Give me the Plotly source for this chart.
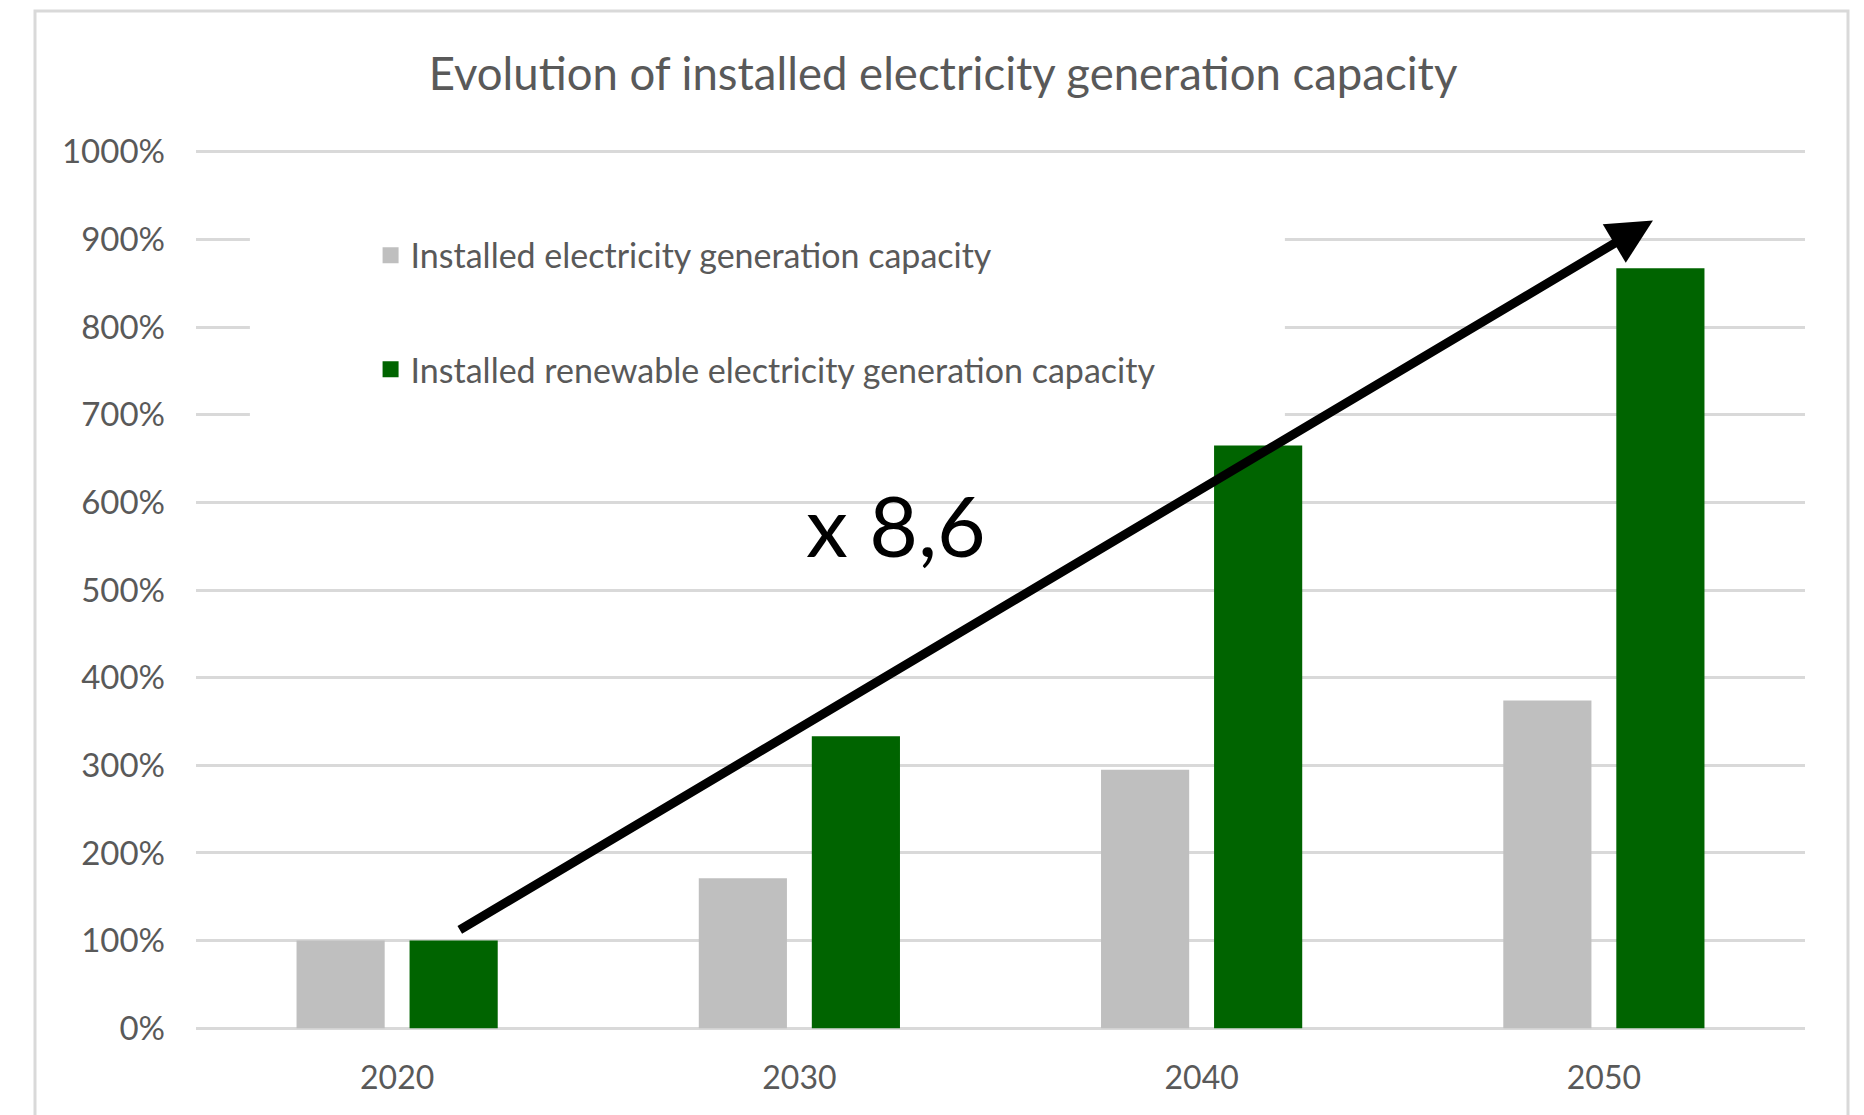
import plotly.graph_objects as go

years = ["2020", "2030", "2040", "2050"]
total_capacity = [1.00, 1.71, 2.95, 3.74]
renewable_capacity = [1.00, 3.33, 6.65, 8.67]
series_names = ["Installed electricity generation capacity",
                "Installed renewable electricity generation capacity"]
series_colors = ["#BFBFBF", "#006400"]
title_text = "Evolution of installed electricity generation capacity"
growth_label = "x 8,6"

FONT = "Lato, Calibri, Carlito, sans-serif"
TXT = "#595959"

W, H = 1856, 1107  # page body has an 8px margin

fig = go.Figure()
for name, vals, col, grp in zip(series_names, [total_capacity, renewable_capacity],
                                series_colors, ["a", "b"]):
    fig.add_trace(go.Bar(x=years, y=vals, name=name,
                         marker=dict(color=col, line=dict(width=0)),
                         legendgroup=grp, showlegend=False))
# legend entries with larger square keys (as in the original)
for name, col, grp in zip(series_names, series_colors, ["a", "b"]):
    fig.add_trace(go.Scatter(x=[None], y=[None], mode="markers", name=name,
                             marker=dict(symbol="square", size=17, color=col),
                             legendgroup=grp, showlegend=True, hoverinfo="skip"))

fig.update_layout(
    width=W, height=H,
    margin=dict(l=188, r=59, t=142, b=85),
    paper_bgcolor="white", plot_bgcolor="white",
    barmode="group", bargap=0.438, bargroupgap=0.22,
    font=dict(family=FONT, color=TXT),
    title=dict(text=title_text, x=935 / W, xanchor="center",
               y=1 - 66 / H, yanchor="middle",
               font=dict(family=FONT, size=45.5, color=TXT)),
    legend=dict(x=0.1085, y=0.913, xanchor="left", yanchor="top",
                bgcolor="rgba(0,0,0,0)", font=dict(size=34, color=TXT),
                tracegroupgap=67, traceorder="grouped", itemsizing="trace"),
    showlegend=True,
)
fig.update_yaxes(range=[-0.02, 10.02], tickvals=[i for i in range(11)],
                 tickformat=".0%", showgrid=True, gridcolor="#D9D9D9", gridwidth=3,
                 zeroline=False, showline=False, ticks="",
                 ticklabelstandoff=30,
                 tickfont=dict(family=FONT, size=33, color=TXT))
fig.update_xaxes(showgrid=False, showline=False, ticks="", zeroline=False,
                 ticklabelstandoff=26,
                 tickfont=dict(family=FONT, size=32, color=TXT))

# white box behind legend that hides gridlines
fig.add_shape(type="rect", xref="x", yref="y",
              x0=-0.366, x1=2.207, y0=6.49, y1=9.57,
              fillcolor="white", line=dict(width=0), layer="between")
# outer chart frame
fig.add_shape(type="rect", xref="paper", yref="paper",
              x0=(35 - 196) / 1609, x1=(1848 - 196) / 1609,
              y0=-0.3, y1=(1030 - 11) / 880,
              line=dict(color="#D9D9D9", width=3), fillcolor="rgba(0,0,0,0)",
              layer="below")

# growth arrow
fig.add_annotation(xref="x", yref="y", axref="x", ayref="y",
                   x=3.122, y=9.216, ax=0.152, ay=1.111, text="",
                   showarrow=True, arrowhead=2, arrowsize=1.0, arrowwidth=9,
                   arrowcolor="black", standoff=0, startstandoff=0)
fig.add_annotation(xref="x", yref="y", x=1.239, y=5.75,
                   text=growth_label, showarrow=False,
                   font=dict(family=FONT, size=84, color="black"),
                   xanchor="center", yanchor="middle")

fig.write_html("out.html")
